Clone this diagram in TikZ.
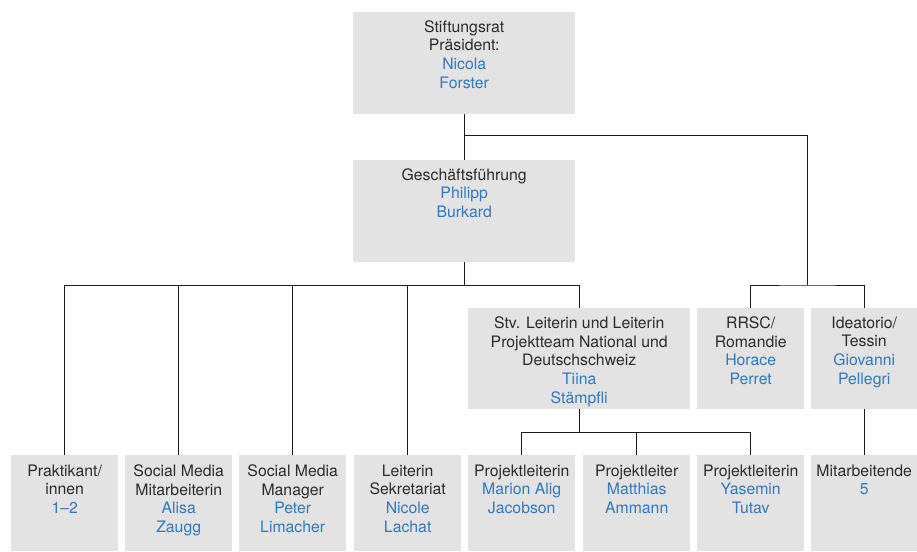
\documentclass[tikz,border=0pt]{standalone}
\usepackage{fontspec}
\setmainfont{TeX Gyre Heros}
\usetikzlibrary{calc}
\definecolor{boxfill}{HTML}{E3E3E3}
\definecolor{txt}{HTML}{2B2B2B}
\definecolor{nm}{HTML}{2F79C0}
\definecolor{ln}{HTML}{1A1A1A}
\newcommand{\nm}[1]{\textcolor{nm}{#1}}
\begin{document}
\begin{tikzpicture}[x=1pt,y=-1pt,
  orgbox/.style={fill=boxfill,draw=none,inner sep=0pt,anchor=north west},
  lbl/.style={anchor=north,align=center,inner sep=0pt,text=txt,font=\fontsize{15.8}{18.7}\selectfont},
  conn/.style={draw=ln,line width=0.9pt}]
\useasboundingbox (0,0) rectangle (917,551);
% boxes
\node[orgbox,minimum width=222pt,minimum height=102pt] (rat) at (353,12) {};
\node[orgbox,minimum width=222pt,minimum height=102pt] (gf) at (353,160) {};
\node[orgbox,minimum width=222pt,minimum height=101pt] (stv) at (468,308) {};
\node[orgbox,minimum width=107pt,minimum height=101pt] (rr) at (697,308) {};
\node[orgbox,minimum width=106pt,minimum height=101pt] (id) at (811,308) {};
\node[orgbox,minimum width=107pt,minimum height=96pt] (b1) at (11,455) {};
\node[orgbox,minimum width=107pt,minimum height=96pt] (b2) at (125,455) {};
\node[orgbox,minimum width=107pt,minimum height=96pt] (b3) at (239,455) {};
\node[orgbox,minimum width=107pt,minimum height=96pt] (b4) at (354,455) {};
\node[orgbox,minimum width=107pt,minimum height=96pt] (b5) at (468,455) {};
\node[orgbox,minimum width=107pt,minimum height=96pt] (b6) at (583,455) {};
\node[orgbox,minimum width=107pt,minimum height=96pt] (b7) at (697,455) {};
\node[orgbox,minimum width=106pt,minimum height=96pt] (b8) at (811,455) {};
% labels
\node[lbl] (trat) at ($(rat.north)+(0,8)$) {Stiftungsrat\\Präsident:\\\nm{Nicola}\\\nm{Forster}};
\node[lbl] (tgf) at ($(gf.north)+(0,8)$) {Geschäftsführung\\\nm{Philipp}\\\nm{Burkard}};
\node[lbl] (tstv) at ($(stv.north)+(0,8.5)$) {Stv. Leiterin und Leiterin\\Projektteam National und\\Deutschschweiz\\\nm{Tiina}\\\nm{Stämpfli}};
\node[lbl] (trr) at ($(rr.north)+(0,8.5)$) {RRSC/\\Romandie\\\nm{Horace}\\\nm{Perret}};
\node[lbl] (tid) at ($(id.north)+(0,8.5)$) {Ideatorio/\\Tessin\\\nm{Giovanni}\\\nm{Pellegri}};
\node[lbl] (tb1) at ($(b1.north)+(0,9.5)$) {Praktikant/\\innen\\\nm{1–2}};
\node[lbl] (tb2) at ($(b2.north)+(0,9.5)$) {Social Media\\Mitarbeiterin\\\nm{Alisa}\\\nm{Zaugg}};
\node[lbl] (tb3) at ($(b3.north)+(0,9.5)$) {Social Media\\Manager\\\nm{Peter}\\\nm{Limacher}};
\node[lbl] (tb4) at ($(b4.north)+(0,9.5)$) {Leiterin\\Sekretariat\\\nm{Nicole}\\\nm{Lachat}};
\node[lbl] (tb5) at ($(b5.north)+(0,9.5)$) {Projektleiterin\\\nm{Marion Alig}\\\nm{Jacobson}};
\node[lbl] (tb6) at ($(b6.north)+(0,9.5)$) {Projektleiter\\\nm{Matthias}\\\nm{Ammann}};
\node[lbl] (tb7) at ($(b7.north)+(0,9.5)$) {Projektleiterin\\\nm{Yasemin}\\\nm{Tutav}};
\node[lbl] (tb8) at ($(b8.north)+(0,9.5)$) {Mitarbeitende\\\nm{5}};
% connectors
\draw[conn] (rat.south) -- (gf.north);
\coordinate (j1) at ($(rat.south)+(0,21)$);
\coordinate (fork) at ($($(rr.north)!0.5!(id.north)$)+(0,-23)$);
\draw[conn] (j1) -| (fork);
\draw[conn] (rr.north) |- (fork) -| (id.north);
\draw[conn] (gf.south) -- ++(0,23) coordinate (j2);
\draw[conn] (b1.north) |- (j2) -| (stv.north);
\draw[conn] (b2.north) -- (b2.north |- j2);
\draw[conn] (b3.north) -- (b3.north |- j2);
\draw[conn] (b4.north) -- (b4.north |- j2);
\draw[conn] (stv.south) -- ++(0,23) coordinate (j3);
\draw[conn] (b5.north) |- (j3) -| (b7.north);
\draw[conn] (b6.north) -- (b6.north |- j3);
\draw[conn] (id.south) -- (b8.north);
\end{tikzpicture}
\end{document}
